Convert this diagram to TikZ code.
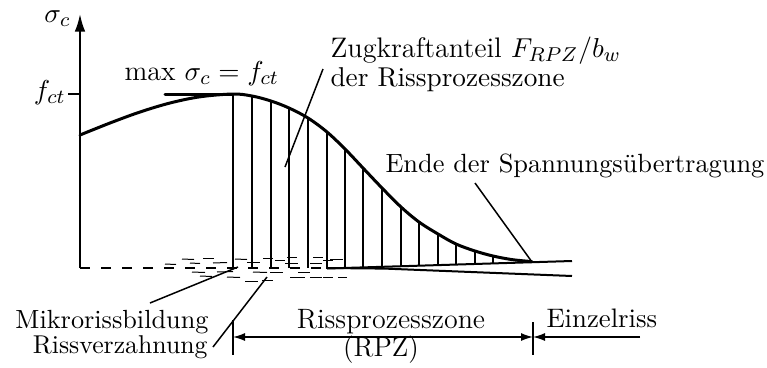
\documentclass[tikz,border=0pt]{standalone}
\usetikzlibrary{arrows.meta}
\newcommand{\fsz}[1]{\fontsize{#1}{#1}\selectfont}
\begin{document}
\begin{tikzpicture}[x=0.4pt,y=-0.4pt,
  curve/.style={line width=1.2pt,line join=round,line cap=round},
  hatch/.style={line width=0.75pt},
  leader/.style={line width=0.6pt},
  axisline/.style={line width=0.8pt},
  crk/.style={line width=0.4pt},
  dimline/.style={line width=0.55pt},
  tipA/.style={-{Latex[length=7pt,width=4.2pt]}},
  tipD/.style={{Latex[length=4.8pt,width=3.2pt]}-{Latex[length=4.8pt,width=3.2pt]}},
  tipR/.style={-{Latex[length=4.8pt,width=3.2pt]}},
  lbl/.style={inner sep=0pt}]
\useasboundingbox (0,0) rectangle (767,367);

% axis
\coordinate (O) at (80,268);
\coordinate (Ytop) at (80,14);
\draw[axisline,tipA] (O) -- (Ytop);
\node[lbl,anchor=base east,font=\fsz{11}] (sig) at (71,22) {$\sigma_c$};
\coordinate (fctTick) at (68,94);
\coordinate (fctAxis) at (80,94);
\draw[axisline] (fctTick) -- (fctAxis);
\node[lbl,anchor=base east,font=\fsz{10.8}] (fct) at (66,99) {$f_{ct}$};

% baseline dashed
\coordinate (C0) at (327,268);
\draw[axisline,dash pattern=on 4pt off 4.4pt] (O) -- (C0);
% crack opening lines
\coordinate (Cu) at (572,261);
\coordinate (Cm) at (385,268.6);
\coordinate (Cl) at (572,276);
\draw[axisline] (327,268.5) -- (Cu);
\draw[axisline] (C0) -- (Cm) -- (Cl);

% peak tangent
\coordinate (Tl) at (165,94);
\coordinate (Tr) at (233,94);
\draw[curve] (Tl) -- (Tr);

% stress curve
\draw[curve] plot[smooth,tension=0.55] coordinates {
 (80,135) (110,123) (140,112) (170,103) (200,96.8) (233,94)
 (252,96) (271,101) (289,108) (308,118) (327,132) (345,149)
 (363,168) (382,188) (401,207) (419,222) (438,234) (456,244)
 (475,251) (493,256) (512,259.6) (532,261.6)};

% hatching
\foreach \x/\t/\b in {233/94/268,252/96/268,271/101/268,289/108/268,308/118/268,
  327/132/268.5,345/149/267.9,363/168/267.4,382/188/266.8,401/207/266.2,
  419/222/265.7,438/234/265.1,456/244/264.6,475/251/264.0,493/256/263.4}
  \draw[hatch] (\x,\t) -- (\x,\b);

% micro cracks
\foreach \a/\b/\y/\s in {
 182/194/259/0.5, 203/214/258/0, 235/247/259/0.5, 263/273/258/0, 287/297/257/0, 313/323/257/0, 330/343/259/0,
 190/200/263/0.5, 213/227/263/-0.5, 247/260/262/0, 275/285/260/0, 285/298/263/0, 310/322/263/0, 323/333/260/0,
 165/176/264/0.5,
 192/205/272/0.5, 217/233/272/-0.5, 253/267/272/0.5, 270/283/272/0, 298/310/272/0,
 227/240/277/0.5, 290/305/277/0, 310/322/277/0, 323/333/277/0, 338/347/277/0,
 200/212/276/0.5, 245/258/281/0, 262/273/280/0}
  \draw[crk] (\a,\y) -- (\b,\y+\s);

% labels
\node[lbl,anchor=base west,font=\fsz{11.2}] (maxl) at (124,80) {max $\sigma_c = f_{ct}$};
\node[lbl,anchor=base west,font=\fsz{11.3}] (zug1) at (330,57) {Zugkraftanteil $F_{RPZ}/b_w$};
\node[lbl,anchor=base west,font=\fsz{10.9}] (zug2) at (330,86) {der Rissprozesszone};
\coordinate (zugA) at (323,69);
\coordinate (zugB) at (285,167);
\draw[leader] (zugA) -- (zugB);

\node[lbl,anchor=base west,font=\fsz{10.55}] (ende) at (385,172) {Ende der Spannungsübertragung};
\coordinate (endeA) at (475,183);
\coordinate (endeB) at (532,262);
\draw[leader] (endeA) -- (endeB);

\node[lbl,anchor=base east,font=\fsz{10.5}] (mikro) at (209,328) {Mikrorissbildung};
\node[lbl,anchor=base east,font=\fsz{10.3}] (verz) at (208,353) {Rissverzahnung};
\coordinate (mikA) at (150,303);
\coordinate (mikB) at (238,267);
\draw[leader] (mikA) -- (mikB);
\coordinate (verA) at (213,347);
\coordinate (verB) at (267,277);
\draw[leader] (verA) -- (verB);

% dimension
\coordinate (d1t) at (233,320);
\coordinate (d1b) at (233,355);
\coordinate (d2t) at (533,322);
\coordinate (d2b) at (533,355);
\draw[dimline] (d1t) -- (d1b);
\draw[dimline] (d2t) -- (d2b);
\coordinate (dA) at (233,337);
\coordinate (dB) at (533,337);
\coordinate (dC) at (640,337);
\draw[dimline,tipD] (dA) -- (dB);
\draw[dimline,tipR] (dC) -- (dB);
\node[lbl,anchor=base,font=\fsz{11.2}] (rpz) at (391,328) {Rissprozesszone};
\node[lbl,anchor=base,font=\fsz{11}] (rpzk) at (381,356) {(RPZ)};
\node[lbl,anchor=base west,font=\fsz{10.7}] (einz) at (546,327) {Einzelriss};
\end{tikzpicture}
\end{document}
